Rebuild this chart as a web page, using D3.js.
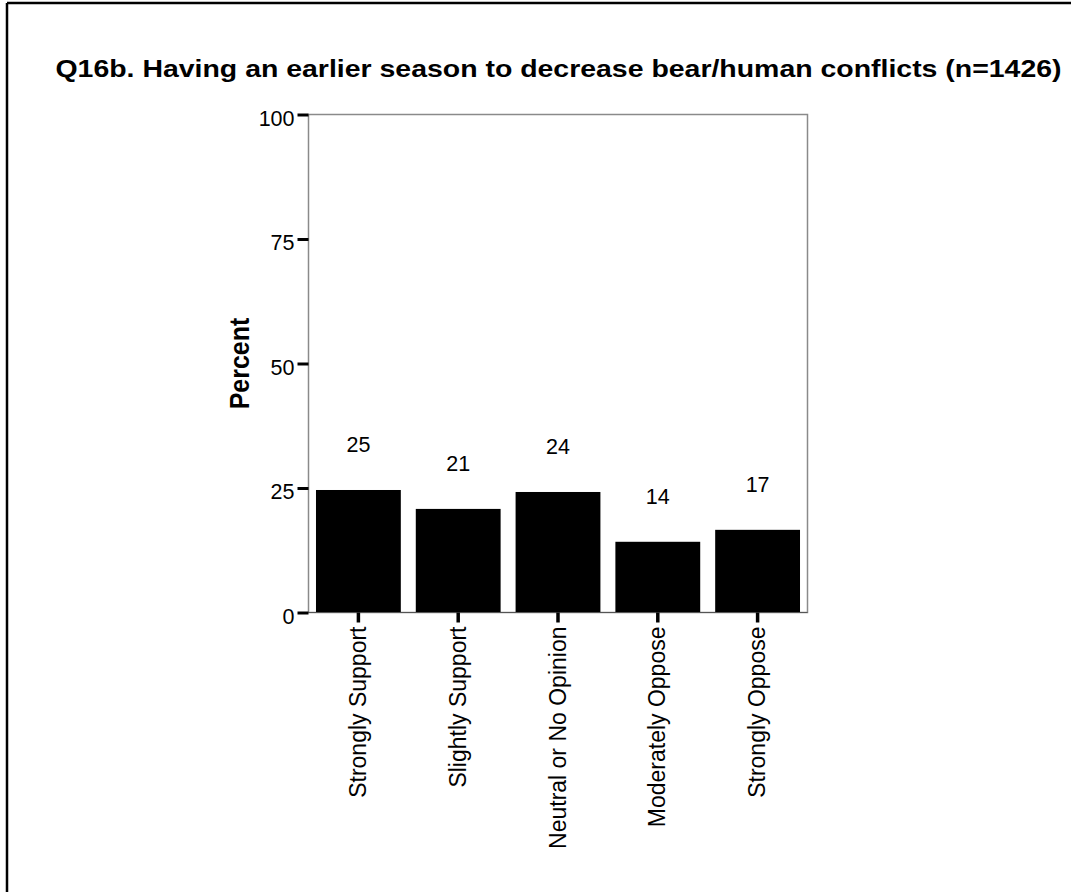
<!DOCTYPE html>
<html>
<head>
<meta charset="utf-8">
<script src="https://cdn.jsdelivr.net/npm/d3@7"></script>
<style>
  html, body { margin: 0; padding: 0; background: #fff; }
  svg { display: block; font-family: "Liberation Sans", Arial, sans-serif; }
</style>
</head>
<body>
<svg id="chart" width="1071" height="892"></svg>
<script>
const categories = ["Strongly Support", "Slightly Support", "Neutral or No Opinion", "Moderately Oppose", "Strongly Oppose"];
const percents = [24.6, 20.8, 24.2, 14.2, 16.6];
const valueLabels = ["25", "21", "24", "14", "17"];
const yTicks = [0, 25, 50, 75, 100];
const titleText = "Q16b. Having an earlier season to decrease bear/human conflicts (n=1426)";
const yTitle = "Percent";

const svg = d3.select("#chart");
const W = 1071, H = 892;
const m = { left: 308.5, right: 807.5, top: 114.5, bottom: 612.5 };

// outer frame (left and top edges visible)
svg.append("line").attr("x1", 7).attr("x2", 7).attr("y1", 3).attr("y2", H)
  .attr("stroke", "#000").attr("stroke-width", 2.5);
svg.append("line").attr("x1", 7).attr("x2", W).attr("y1", 3).attr("y2", 3)
  .attr("stroke", "#000").attr("stroke-width", 2.5);

const x = d3.scaleBand().domain(categories).range([m.left, m.right]).paddingInner(0.15).paddingOuter(0.075);
const y = d3.scaleLinear().domain([0, 100]).range([m.bottom, m.top]);

// title
svg.append("text").attr("x", 558.5).attr("y", 76.5)
  .attr("text-anchor", "middle").attr("font-weight", "bold").attr("font-size", 24.5)
  .attr("textLength", 1006).attr("lengthAdjust", "spacingAndGlyphs")
  .attr("fill", "#000").text(titleText);

// plot box
svg.append("rect").attr("x", m.left).attr("y", m.top)
  .attr("width", m.right - m.left).attr("height", m.bottom - m.top)
  .attr("fill", "none").attr("stroke", "#8a8a8a").attr("stroke-width", 1.5);

// bars
svg.append("g").selectAll("rect").data(categories).join("rect")
  .attr("x", d => x(d))
  .attr("width", x.bandwidth())
  .attr("y", (d, i) => y(percents[i]))
  .attr("height", (d, i) => y(0) - y(percents[i]))
  .attr("fill", "#000");

// bottom axis line
svg.append("line").attr("x1", m.left).attr("x2", m.right).attr("y1", m.bottom).attr("y2", m.bottom)
  .attr("stroke", "#555").attr("stroke-width", 1.2);

// value labels
svg.append("g").selectAll("text").data(categories).join("text")
  .attr("x", d => x(d) + x.bandwidth() / 2)
  .attr("y", (d, i) => y(percents[i]) - 38)
  .attr("text-anchor", "middle").attr("font-size", 21.5).attr("fill", "#000")
  .text((d, i) => valueLabels[i]);

// y axis
const yAxis = d3.axisLeft(y).tickValues(yTicks).tickSize(11).tickPadding(3).tickFormat(d3.format("d"));
const gy = svg.append("g").attr("transform", `translate(${m.left},0)`).call(yAxis);
gy.select(".domain").remove();
gy.selectAll(".tick line").attr("stroke", "#000").attr("stroke-width", 3);
gy.selectAll(".tick text").attr("font-size", 21.5).attr("fill", "#000")
  .attr("font-family", "Liberation Sans, Arial, sans-serif")
  .attr("dy", "0.5em");

// x axis
const xAxis = d3.axisBottom(x).tickSize(10).tickPadding(0);
const gx = svg.append("g").attr("transform", `translate(0,${m.bottom})`).call(xAxis);
gx.select(".domain").remove();
gx.selectAll(".tick line").attr("stroke", "#000").attr("stroke-width", 3.5);
gx.selectAll(".tick text")
  .attr("font-size", 23).attr("fill", "#000")
  .attr("font-family", "Liberation Sans, Arial, sans-serif")
  .attr("text-anchor", "end")
  .attr("transform", "rotate(-90)")
  .attr("x", -14).attr("y", 0).attr("dy", "0.33em");

// y axis title
svg.append("text").attr("transform", `translate(249,${(m.top + m.bottom) / 2}) rotate(-90) scale(1,1.12)`)
  .attr("text-anchor", "middle").attr("font-weight", "bold").attr("font-size", 25)
  .attr("fill", "#000").text(yTitle);
</script>
</body>
</html>
